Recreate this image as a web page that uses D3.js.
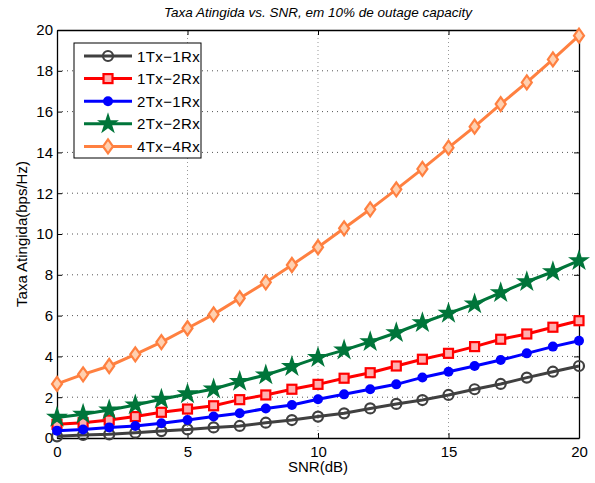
<!DOCTYPE html>
<html>
<head>
<meta charset="utf-8">
<script src="https://cdn.jsdelivr.net/npm/d3@7"></script>
<style>
  body { margin: 0; background: #fff; }
  text { font-family: "Liberation Sans", Arial, sans-serif; }
</style>
</head>
<body>
<script>
// data
var snr = d3.range(0, 21);
var tx1rx1 = [0.08,0.15,0.18,0.26,0.34,0.42,0.52,0.59,0.75,0.88,1.05,1.21,1.45,1.67,1.86,2.11,2.39,2.65,2.96,3.25,3.53];
var tx1rx2 = [0.67,0.75,0.88,1.05,1.26,1.42,1.58,1.88,2.11,2.39,2.63,2.93,3.20,3.53,3.86,4.15,4.48,4.84,5.10,5.43,5.75];
var tx2rx1 = [0.36,0.42,0.52,0.59,0.72,0.88,1.05,1.21,1.45,1.62,1.90,2.14,2.39,2.63,2.97,3.25,3.53,3.82,4.15,4.48,4.77];
var tx2rx2 = [1.01,1.16,1.37,1.62,1.90,2.16,2.40,2.77,3.09,3.50,3.94,4.31,4.72,5.16,5.65,6.11,6.57,7.12,7.66,8.15,8.69];
var tx4rx4 = [2.65,3.12,3.53,4.10,4.70,5.38,6.06,6.85,7.63,8.48,9.35,10.28,11.21,12.19,13.19,14.23,15.26,16.37,17.43,18.56,19.72];
var xTicks = [0, 5, 10, 15, 20];
var yTicks = [0, 2, 4, 6, 8, 10, 12, 14, 16, 18, 20];

var series = [
  {name: "1Tx\u22121Rx", vals: tx1rx1, color: "#404040", marker: "circle"},
  {name: "1Tx\u22122Rx", vals: tx1rx2, color: "#ff0000", marker: "square"},
  {name: "2Tx\u22121Rx", vals: tx2rx1, color: "#0000ff", marker: "dot"},
  {name: "2Tx\u22122Rx", vals: tx2rx2, color: "#00753a", marker: "star"},
  {name: "4Tx\u22124Rx", vals: tx4rx4, color: "#ff8040", marker: "diamond"}
];

var W = 595, H = 483;
var m = {left: 57, right: 16, top: 30, bottom: 45};
var pw = W - m.left - m.right, ph = H - m.top - m.bottom;

var svg = d3.select("body").append("svg")
  .attr("width", W)
  .attr("height", H);

var x = d3.scaleLinear().domain([0, 20]).range([0, pw]);
var y = d3.scaleLinear().domain([0, 20]).range([ph, 0]);

var g = svg.append("g").attr("transform", "translate(" + m.left + "," + m.top + ")");

// grid
g.selectAll(".vg").data(xTicks.slice(1, -1)).enter().append("line")
  .attr("x1", d => x(d)).attr("x2", d => x(d))
  .attr("y1", 0).attr("y2", ph)
  .attr("stroke", "#999").attr("stroke-width", 1).attr("stroke-dasharray", "1,3");
g.selectAll(".hg").data(yTicks.slice(1, -1)).enter().append("line")
  .attr("y1", d => y(d)).attr("y2", d => y(d))
  .attr("x1", 0).attr("x2", pw)
  .attr("stroke", "#555").attr("stroke-width", 1).attr("stroke-dasharray", "1,4");

// axes
var xAxis = g.append("g").attr("transform", "translate(0," + ph + ")")
  .call(d3.axisBottom(x).tickValues(xTicks).tickSizeInner(-5).tickSizeOuter(0).tickPadding(8));
var yAxis = g.append("g")
  .call(d3.axisLeft(y).tickValues(yTicks).tickSizeInner(-5).tickSizeOuter(0).tickPadding(4));
var xTop = g.append("g")
  .call(d3.axisTop(x).tickValues(xTicks).tickSizeInner(-5).tickSizeOuter(0).tickFormat(""));
var yRight = g.append("g").attr("transform", "translate(" + pw + ",0)")
  .call(d3.axisRight(y).tickValues(yTicks).tickSizeInner(-5).tickSizeOuter(0).tickFormat(""));
[xAxis, yAxis, xTop, yRight].forEach(function(a) {
  a.selectAll("path, line").attr("stroke", "#000");
  a.select("path").attr("stroke-width", 1.3);
  a.selectAll("text").attr("font-size", 15).attr("fill", "#000")
    .style("font-family", "Liberation Sans, Arial, sans-serif");
});

// marker drawing
var star = d3.symbol().type(d3.symbolStar).size(150);
function drawMarker(sel, s) {
  if (s.marker == "circle") {
    sel.append("circle").attr("r", 5).attr("fill", "none")
      .attr("stroke", s.color).attr("stroke-width", 2.2);
  } else if (s.marker == "square") {
    sel.append("rect").attr("x", -4.5).attr("y", -4.5).attr("width", 9).attr("height", 9)
      .attr("fill", "#ffb0b0").attr("stroke", s.color).attr("stroke-width", 2.2);
  } else if (s.marker == "dot") {
    sel.append("circle").attr("r", 5).attr("fill", s.color);
  } else if (s.marker == "star") {
    sel.append("path").attr("d", star).attr("fill", s.color);
  } else {
    sel.append("path").attr("d", "M0,-7L5,0L0,7L-5,0Z").attr("fill", "#ffd0b0")
      .attr("stroke", s.color).attr("stroke-width", 2.2);
  }
}

var line = d3.line().x((d, i) => x(snr[i])).y(d => y(d));

series.forEach(function(s) {
  g.append("path").datum(s.vals).attr("d", line)
    .attr("fill", "none").attr("stroke", s.color).attr("stroke-width", 3);
  g.selectAll(null).data(s.vals).enter().append("g")
    .attr("transform", (d, i) => "translate(" + x(snr[i]) + "," + y(d) + ")")
    .each(function() { drawMarker(d3.select(this), s); });
});

// legend
var lg = svg.append("g").attr("transform", "translate(74,43)");
lg.append("rect").attr("width", 127).attr("height", 115)
  .attr("fill", "#fff").attr("stroke", "#000").attr("stroke-width", 1);
series.forEach(function(s, i) {
  var yy = 13 + i * 22.6;
  var row = lg.append("g").attr("transform", "translate(0," + yy + ")");
  row.append("line").attr("x1", 10).attr("x2", 58).attr("y1", 0).attr("y2", 0)
    .attr("stroke", s.color).attr("stroke-width", 3);
  var mk = row.append("g").attr("transform", "translate(34,0)");
  drawMarker(mk, s);
  row.append("text").attr("x", 63).attr("y", 5.5).attr("font-size", 15)
    .attr("letter-spacing", 0.4).text(s.name);
});

// titles
svg.append("text").attr("x", m.left + pw / 2).attr("y", 17)
  .attr("text-anchor", "middle").attr("font-size", 13.5).attr("font-style", "italic")
  .text("Taxa Atingida vs. SNR, em 10% de outage capacity");
svg.append("text").attr("x", m.left + pw / 2).attr("y", 472)
  .attr("text-anchor", "middle").attr("font-size", 15).text("SNR(dB)");
svg.append("text").attr("transform", "translate(27," + (m.top + ph / 2) + ") rotate(-90)")
  .attr("text-anchor", "middle").attr("font-size", 15).text("Taxa Atingida(bps/Hz)");
</script>
</body>
</html>
